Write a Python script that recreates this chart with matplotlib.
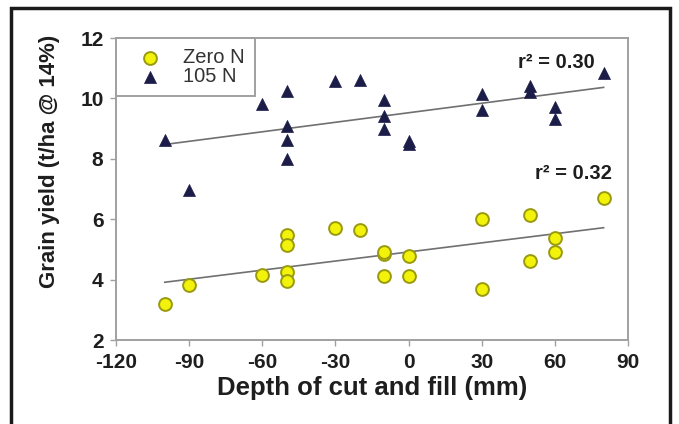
import numpy as np
import matplotlib
matplotlib.use("Agg")
import matplotlib.pyplot as plt
from matplotlib.patches import Rectangle

# depth of cut (-) and fill (+), mm
zero_x = [-100, -90, -60, -50, -50, -50, -50, -30, -20, -10, -10, -10,
          0, 0, 30, 30, 50, 50, 60, 60, 80]
zero_y = [3.2, 3.83, 4.14, 5.47, 5.14, 4.24, 3.96, 5.72, 5.64, 4.85, 4.9, 4.11,
          4.79, 4.13, 6.0, 3.69, 6.13, 4.6, 5.39, 4.9, 6.69]

n105_x = [-100, -90, -60, -50, -50, -50, -50, -30, -20, -10, -10, -10,
          0, 0, 30, 30, 50, 50, 60, 60, 80]
n105_y = [8.61, 6.96, 9.8, 10.26, 9.1, 8.62, 7.98, 10.59, 10.62, 9.94, 9.43, 8.99,
          8.5, 8.6, 10.15, 9.6, 10.2, 10.4, 9.71, 9.33, 10.84]

xticks = [-120, -90, -60, -30, 0, 30, 60, 90]
yticks = [2, 4, 6, 8, 10, 12]
r2_zero = "0.32"
r2_105 = "0.30"

plt.rcParams['font.family'] = ['Liberation Sans', 'DejaVu Sans']
plt.rcParams['axes.unicode_minus'] = False

fig = plt.figure(figsize=(6.79, 4.24), dpi=100)
ax = fig.add_axes([116/679, 1-340/424, (628-116)/679, (340-38)/424])

# outer black frame (open at the bottom, like the cropped original)
fig.patches.append(Rectangle((11/679, -0.2), (670-11)/679, 1.2-8/424,
                             transform=fig.transFigure, fill=False,
                             edgecolor='#1a1a1a', linewidth=2.5))

grey = '#a0a0a0'
ink = '#1e1e1e'

# trend lines (least squares)
for xs, ys in [(zero_x, zero_y), (n105_x, n105_y)]:
    m, b = np.polyfit(xs, ys, 1)
    xl = np.array([min(xs), max(xs)])
    ax.plot(xl, m*xl + b, color='#707070', lw=1.2, zorder=1)

ax.scatter(zero_x, zero_y, s=85, marker='o', facecolor='#f2f20a',
           edgecolor='#9a9a10', linewidth=1.4, zorder=3, label='Zero N')
ax.scatter(n105_x, n105_y, s=75, marker='^', facecolor='#1c1c48',
           edgecolor='#1c1c48', linewidth=0.5, zorder=3, label='105 N')

ax.set_xlim(-120, 90)
ax.set_ylim(2, 12)
ax.set_xticks(xticks)
ax.set_yticks(yticks)
for s in ax.spines.values():
    s.set_color(grey)
    s.set_linewidth(1.4)
ax.tick_params(direction='out', length=4, width=1, color=grey,
               labelsize=15, pad=5)
for lab in ax.get_xticklabels() + ax.get_yticklabels():
    lab.set_fontweight('bold')
    lab.set_color(ink)

ax.set_xlabel("Depth of cut and fill (mm)", fontsize=18.5, fontweight='bold',
              color=ink, labelpad=3)
ax.set_ylabel("Grain yield (t/ha @ 14%)", fontsize=16, fontweight='bold',
              color=ink)
ax.yaxis.set_label_coords(-0.109, 0.593)

ax.text(0.935, 0.92, "r² = " + r2_105, transform=ax.transAxes,
        ha='right', va='center', fontsize=14.5, fontweight='bold', color=ink)
ax.text(0.969, 0.55, "r² = " + r2_zero, transform=ax.transAxes,
        ha='right', va='center', fontsize=14.5, fontweight='bold', color=ink)

leg = ax.legend(loc='upper left', bbox_to_anchor=(0, 1), borderaxespad=0,
                fancybox=False, edgecolor=grey, framealpha=1, fontsize=14.5,
                handletextpad=0.45, borderpad=0.5, labelspacing=0.0,
                handlelength=2.4)
leg.get_frame().set_linewidth(1.4)
for t in leg.get_texts():
    t.set_color('#333333')

fig.savefig("out.png", dpi=100)
